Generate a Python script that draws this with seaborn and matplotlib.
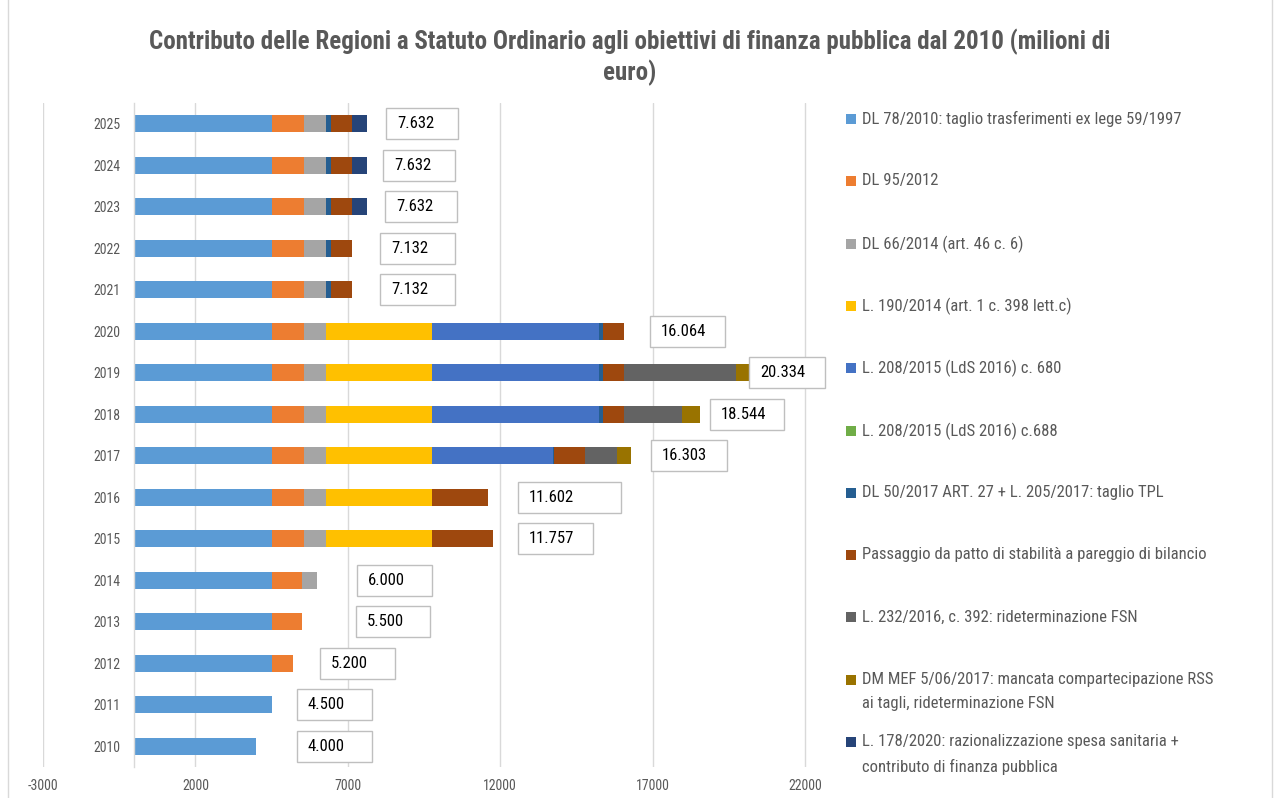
import matplotlib
matplotlib.use("Agg")
import matplotlib.pyplot as plt
import seaborn as sns
import pandas as pd
import numpy as np
from matplotlib.patches import Rectangle

# ---------------- data ----------------
years = [2010, 2011, 2012, 2013, 2014, 2015, 2016, 2017,
         2018, 2019, 2020, 2021, 2022, 2023, 2024, 2025]

series_names = [
    "DL 78/2010: taglio trasferimenti ex lege 59/1997",
    "DL 95/2012",
    "DL 66/2014 (art. 46 c. 6)",
    "L. 190/2014 (art. 1 c. 398 lett.c)",
    "L. 208/2015 (LdS 2016) c. 680",
    "L. 208/2015 (LdS 2016) c.688",
    "DL 50/2017 ART. 27 + L. 205/2017: taglio TPL",
    "Passaggio da patto di stabilità a pareggio di bilancio",
    "L. 232/2016, c. 392: rideterminazione FSN",
    "DM MEF 5/06/2017: mancata compartecipazione RSS\nai tagli, rideterminazione FSN",
    "L. 178/2020: razionalizzazione spesa sanitaria +\ncontributo di finanza pubblica",
]

dl78 = [4000, 4500, 4500, 4500, 4500, 4500, 4500, 4500, 4500, 4500, 4500, 4500, 4500, 4500, 4500, 4500]
dl95 = [0, 0, 700, 1000, 1000, 1050, 1050, 1050, 1050, 1050, 1050, 1050, 1050, 1050, 1050, 1050]
dl66 = [0, 0, 0, 0, 500, 750, 750, 750, 750, 750, 750, 750, 750, 750, 750, 750]
l190 = [0, 0, 0, 0, 0, 3452, 3452, 3452, 3452, 3452, 3452, 0, 0, 0, 0, 0]
l208_680 = [0, 0, 0, 0, 0, 0, 0, 3980, 5480, 5480, 5480, 0, 0, 0, 0, 0]
l208_688 = [0, 0, 0, 0, 0, 0, 0, 0, 0, 0, 0, 0, 0, 0, 0, 0]
dl50_tpl = [0, 0, 0, 0, 0, 0, 0, 45, 150, 150, 150, 150, 150, 150, 150, 150]
pareggio = [0, 0, 0, 0, 0, 2005, 1850, 1005, 682, 682, 682, 682, 682, 682, 682, 682]
l232 = [0, 0, 0, 0, 0, 0, 0, 1050, 1900, 3690, 0, 0, 0, 0, 0, 0]
dm_mef = [0, 0, 0, 0, 0, 0, 0, 471, 580, 580, 0, 0, 0, 0, 0, 0]
l178 = [0, 0, 0, 0, 0, 0, 0, 0, 0, 0, 0, 0, 0, 500, 500, 500]

series_values = [dl78, dl95, dl66, l190, l208_680, l208_688, dl50_tpl,
                 pareggio, l232, dm_mef, l178]

x_ticks = [-3000, 2000, 7000, 12000, 17000, 22000]

# ---------------- styles / positions ----------------
colors = ["#5B9BD5", "#ED7D31", "#A5A5A5", "#FFC000", "#4472C4", "#70AD47",
          "#255E91", "#9E480E", "#636363", "#997300", "#264478"]
# left edge and width of each value box (data units), in year order
label_left = [5335, 5335, 6090, 7272, 7305, 12587, 12587, 16950,
              18886, 20166, 16917, 8059, 8059, 8223, 8157, 8256]
label_width = [2460, 2460, 2460, 2430, 2460, 2460, 3380, 2490,
               2430, 2490, 2460, 2460, 2460, 2360, 2360, 2360]

sns.set_theme(style="white")
NARROW = ["Liberation Sans Narrow", "Roboto Condensed", "Archivo Narrow",
          "Liberation Sans", "DejaVu Sans"]
plt.rcParams["font.family"] = NARROW
TXT = "#595959"

fig = plt.figure(figsize=(12.76, 7.98), dpi=100)
W, H = 1276, 798
ax = fig.add_axes([43 / W, 1 - 767 / H, (835.4 - 43) / W, (767 - 103) / H])

year_lbl = [str(y) for y in years]
order = year_lbl[::-1]
df = pd.DataFrame({"year": year_lbl})
cum = np.zeros(len(years))
cums = []
for vals in series_values:
    cum = cum + np.array(vals, dtype=float)
    cums.append(cum.copy())

# stacked bars: draw cumulative totals from largest to smallest
for i in range(len(series_values) - 1, -1, -1):
    d = df.copy()
    d["value"] = cums[i]
    sns.barplot(data=d, x="value", y="year", order=order, orient="h",
                color=colors[i], saturation=1, width=0.41, errorbar=None,
                linewidth=0, edgecolor="none", ax=ax)

ax.set_xlim(-3000, 23000)
ax.set_xticks(x_ticks)
ax.set_xticklabels([str(t) for t in x_ticks])
ax.set_xlabel("")
ax.set_ylabel("")
ax.grid(axis="x", color="#D9D9D9", linewidth=1)
ax.grid(axis="y", visible=False)
ax.set_axisbelow(True)
for s in ["top", "right", "bottom"]:
    ax.spines[s].set_visible(False)
ax.spines["left"].set_position(("data", 0))
ax.spines["left"].set_color("#D9D9D9")
ax.spines["left"].set_linewidth(1)
ax.tick_params(axis="both", length=0, colors=TXT, labelsize=10)
ax.tick_params(axis="y", pad=10)
ax.tick_params(axis="x", pad=9)

# value boxes
totals = cums[-1]
for yr, tot, lx, lw in zip(year_lbl, totals, label_left, label_width):
    pos = order.index(yr)
    ax.add_patch(Rectangle((lx, pos - 0.37), lw, 0.74, facecolor="white",
                           edgecolor="#BFBFBF", linewidth=1, zorder=5,
                           clip_on=False))
    txt = f"{int(round(tot)):,}".replace(",", ".")
    ax.text(lx + 360, pos, txt, ha="left", va="center", fontsize=12,
            color="black", zorder=6)

# title
fig.text(630 / W, 1 - 57 / H,
         "Contributo delle Regioni a Statuto Ordinario agli obiettivi di finanza pubblica dal 2010 (milioni di\neuro)",
         ha="center", va="center", fontsize=18, fontweight="bold",
         color=TXT, linespacing=1.22)

# legend (Excel style: equal slots, marker aligned with first line)
leg_y0, leg_step = 119, 62.3
for k, (name, c) in enumerate(zip(series_names, colors)):
    yc = leg_y0 + leg_step * k
    fig.patches.append(Rectangle((846 / W, 1 - (yc + 5) / H), 10 / W, 10 / H,
                                 transform=fig.transFigure, facecolor=c,
                                 edgecolor="none"))
    fig.text(862 / W, 1 - (yc - 8) / H, name, ha="left", va="top",
             fontsize=12, color=TXT, linespacing=1.8)

# chart border
fig.patches.append(Rectangle((8 / W, -0.01), (1272 - 8) / W, 1.02,
                             transform=fig.transFigure, facecolor="none",
                             edgecolor="#D9D9D9", linewidth=1))

fig.savefig("out.png", dpi=100)
